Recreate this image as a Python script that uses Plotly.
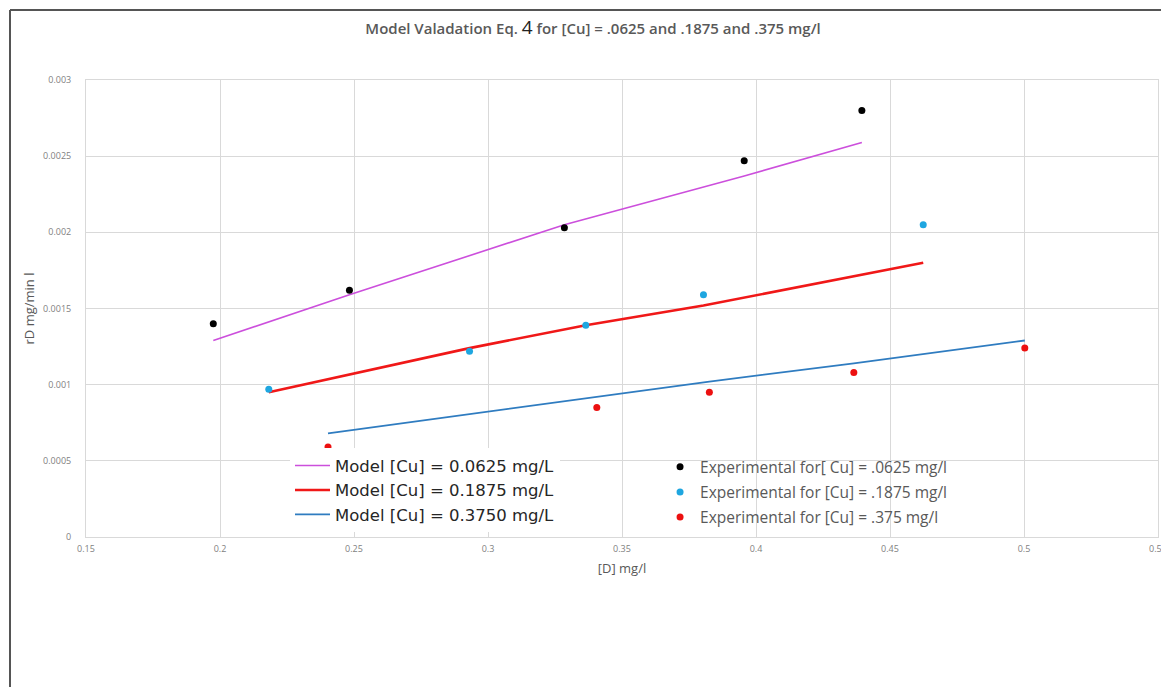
import plotly.graph_objects as go

# Measured concentrations [D] (mg/l) for each copper level
d_cu_0625 = [0.1975, 0.2483, 0.3285, 0.3956, 0.4395]
d_cu_1875 = [0.2182, 0.2931, 0.3365, 0.3804, 0.4624]
d_cu_375 = [0.2403, 0.3406, 0.3826, 0.4365, 0.5003]

# Experimental rates rD (mg/min l)
exp_cu_0625 = [0.00140, 0.00162, 0.00203, 0.00247, 0.00280]
exp_cu_1875 = [0.00097, 0.00122, 0.00139, 0.00159, 0.00205]
exp_cu_375 = [0.00059, 0.00085, 0.00095, 0.00108, 0.00124]

# Model predictions (Eq. 4) at the same [D] values
model_cu_0625 = [0.00129, 0.00159, 0.00205, 0.00237, 0.00259]
model_cu_1875 = [0.00095, 0.00124, 0.00139, 0.00152, 0.00180]
model_cu_375 = [0.00068, 0.00092, 0.00102, 0.00114, 0.00129]

model_names = ["Model [Cu] = 0.0625 mg/L", "Model [Cu] = 0.1875 mg/L", "Model [Cu] = 0.3750 mg/L"]
exp_names = ["Experimental for[ Cu] = .0625 mg/l", "Experimental for [Cu] = .1875 mg/l",
             "Experimental for [Cu] = .375 mg/l"]

x_tickvals = [0.15, 0.2, 0.25, 0.3, 0.35, 0.4, 0.45, 0.5, 0.55]
x_ticktext = ["0.15", "0.2", "0.25", "0.3", "0.35", "0.4", "0.45", "0.5", "0.55"]
y_tickvals = [0, 0.0005, 0.001, 0.0015, 0.002, 0.0025, 0.003]
y_ticktext = ["0", "0.0005", "0.001", "0.0015", "0.002", "0.0025", "0.003"]

fig = go.Figure()

model_styles = [("#cc4fdc", 1.6), ("#f01818", 2.6), ("#2f7cc0", 1.8)]
for xs, ys, name, (col, w) in zip([d_cu_0625, d_cu_1875, d_cu_375],
                                  [model_cu_0625, model_cu_1875, model_cu_375],
                                  model_names, model_styles):
    fig.add_trace(go.Scatter(x=xs, y=ys, mode="lines", name=name,
                             line=dict(color=col, width=w),
                             legend="legend", legendgroup=name))

exp_colors = ["#000000", "#1ea6e0", "#ec1010"]
for xs, ys, name, col in zip([d_cu_0625, d_cu_1875, d_cu_375],
                             [exp_cu_0625, exp_cu_1875, exp_cu_375],
                             exp_names, exp_colors):
    fig.add_trace(go.Scatter(x=xs, y=ys, mode="markers", name=name,
                             marker=dict(color=col, size=7),
                             legend="legend2", legendgroup=name))

grid = "#d9d9d9"
label_font = dict(family="Open Sans", size=9, color="#7f7f7f")

fig.update_layout(
    width=1161, height=687, autosize=False,
    margin=dict(l=86, r=3, t=80, b=150, autoexpand=False),
    paper_bgcolor="white", plot_bgcolor="white",
    title=dict(
        text="Model Valadation Eq. <span style='font-size:19px;color:#222222;font-weight:normal'>4</span>"
             " for [Cu] = .0625 and .1875 and .375 mg/l",
        x=593 / 1161, xref="container", xanchor="center",
        y=1 - 29 / 687, yref="container", yanchor="middle",
        font=dict(family="Open Sans", size=15, color="#595959", weight=600),
    ),
    xaxis=dict(range=[0.15, 0.55], tickvals=x_tickvals, ticktext=x_ticktext,
               showgrid=True, gridcolor=grid, gridwidth=1, zeroline=False,
               showline=True, linecolor=grid, mirror=True, ticks="",
               tickfont=label_font, ticklabelstandoff=3, ticklabeloverflow="allow",
               automargin=False,
               title=dict(text="[D] mg/l", font=dict(family="Open Sans", size=13, color="#595959"),
                          standoff=10)),
    yaxis=dict(range=[0, 0.003], tickvals=y_tickvals, ticktext=y_ticktext,
               showgrid=True, gridcolor=grid, gridwidth=1, zeroline=False,
               showline=True, linecolor=grid, mirror=True, ticks="",
               tickfont=label_font, ticklabelstandoff=12, automargin=False,
               title=dict(text="rD mg/min l", font=dict(family="Open Sans", size=13, color="#595959"),
                          standoff=5)),
    legend=dict(x=(290 - 86) / 1072, y=0.194, xanchor="left", yanchor="top",
                bgcolor="white", borderwidth=0,
                font=dict(family="DejaVu Sans", size=16.5, color="#262626"),
                tracegroupgap=0, itemwidth=35),
    legend2=dict(x=0.5355, y=0.19, xanchor="left", yanchor="top",
                 bgcolor="rgba(0,0,0,0)", borderwidth=0,
                 font=dict(family="Open Sans", size=15.5, color="#595959"),
                 tracegroupgap=2),
    shapes=[
        dict(type="line", xref="paper", yref="paper",
             x0=(10 - 86) / 1072, x1=(10 - 86) / 1072, y0=(537 - 10) / 457, y1=(537 - 720) / 457,
             line=dict(color="#555555", width=2)),
        dict(type="line", xref="paper", yref="paper",
             x0=(10 - 86) / 1072, x1=1.1, y0=(537 - 10) / 457, y1=(537 - 10) / 457,
             line=dict(color="#555555", width=2)),
    ],
)

fig.write_html("out.html")
